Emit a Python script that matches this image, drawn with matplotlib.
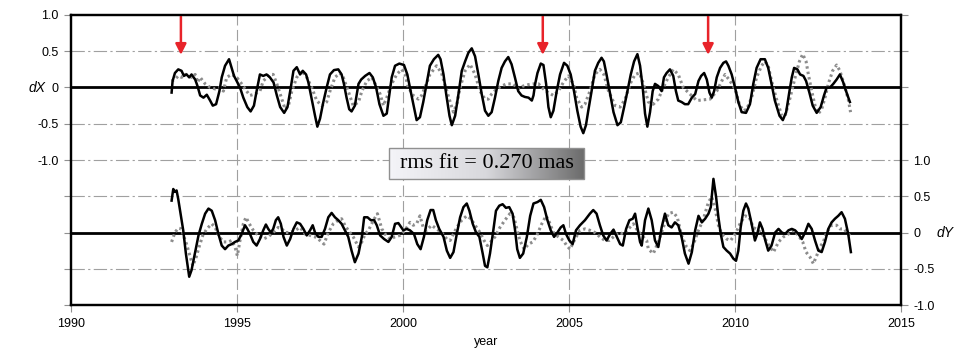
import numpy as np
import matplotlib
matplotlib.use("Agg")
import matplotlib.pyplot as plt
from matplotlib.colors import LinearSegmentedColormap
from matplotlib.patches import Rectangle

# dX, observed (black line)
dx_year = [
    1993.03, 1993.06, 1993.13, 1993.23, 1993.33, 1993.40, 1993.48, 1993.56, 1993.63, 1993.74,
    1993.81, 1993.89, 1993.99, 1994.09, 1994.19, 1994.27, 1994.37, 1994.47, 1994.54, 1994.64,
    1994.76, 1994.84, 1994.91, 1994.99, 1995.09, 1995.19, 1995.31, 1995.41, 1995.51, 1995.59,
    1995.69, 1995.79, 1995.89, 1995.99, 1996.10, 1996.20, 1996.30, 1996.42, 1996.52, 1996.62,
    1996.70, 1996.80, 1996.90, 1996.98, 1997.08, 1997.15, 1997.25, 1997.35, 1997.42, 1997.50,
    1997.60, 1997.70, 1997.80, 1997.92, 1998.05, 1998.15, 1998.22, 1998.30, 1998.38, 1998.45,
    1998.55, 1998.66, 1998.74, 1998.86, 1998.99, 1999.09, 1999.19, 1999.29, 1999.41, 1999.51,
    1999.59, 1999.66, 1999.76, 1999.89,
    2000.03, 2000.13, 2000.23, 2000.33, 2000.41, 2000.51, 2000.61, 2000.71, 2000.81, 2000.93,
    2001.06, 2001.13, 2001.22, 2001.30, 2001.40, 2001.47, 2001.57, 2001.67, 2001.77, 2001.87,
    2001.97, 2002.07, 2002.17, 2002.27, 2002.37, 2002.47, 2002.57, 2002.67, 2002.77, 2002.87,
    2002.97, 2003.07, 2003.17, 2003.27, 2003.37, 2003.47, 2003.57, 2003.67, 2003.78, 2003.88,
    2003.93, 2003.98, 2004.05, 2004.15, 2004.23, 2004.31, 2004.38, 2004.45, 2004.53, 2004.63,
    2004.73, 2004.85, 2004.95, 2005.05, 2005.15, 2005.25, 2005.35, 2005.43, 2005.51, 2005.58,
    2005.68, 2005.78, 2005.88, 2005.98, 2006.05, 2006.13, 2006.24, 2006.34, 2006.46, 2006.56,
    2006.66, 2006.76, 2006.86, 2006.96, 2007.06,
    2007.14, 2007.22, 2007.29, 2007.36, 2007.44, 2007.52, 2007.59, 2007.69, 2007.79, 2007.86,
    2007.94, 2008.04, 2008.14, 2008.22, 2008.29, 2008.39, 2008.49, 2008.59, 2008.70, 2008.80,
    2008.90, 2008.98, 2009.07, 2009.15, 2009.23, 2009.30, 2009.37, 2009.45, 2009.55, 2009.65,
    2009.73, 2009.80, 2009.90, 2010.00, 2010.10, 2010.20, 2010.33, 2010.45, 2010.55, 2010.65,
    2010.77, 2010.90, 2011.00, 2011.10, 2011.20, 2011.34, 2011.44, 2011.54, 2011.64, 2011.71,
    2011.78, 2011.88, 2011.96, 2012.06, 2012.14, 2012.24, 2012.34, 2012.46, 2012.58, 2012.68,
    2012.76, 2012.86, 2012.96, 2013.06, 2013.16, 2013.26, 2013.36, 2013.46,
]
dx_val = [
    -0.07, 0.09, 0.20, 0.25, 0.23, 0.16, 0.18, 0.14, 0.18, 0.11,
    0.02, -0.11, -0.14, -0.10, -0.18, -0.25, -0.23, -0.05, 0.14, 0.30,
    0.39, 0.27, 0.16, 0.09, 0.00, -0.14, -0.27, -0.33, -0.25, -0.05,
    0.18, 0.16, 0.18, 0.14, 0.07, -0.11, -0.27, -0.35, -0.27, 0.00,
    0.23, 0.28, 0.18, 0.23, 0.18, 0.07, -0.16, -0.39, -0.54, -0.43,
    -0.20, 0.00, 0.18, 0.24, 0.25, 0.18, 0.05, -0.14, -0.30, -0.33,
    -0.25, 0.05, 0.11, 0.16, 0.20, 0.14, 0.00, -0.23, -0.39, -0.36,
    -0.09, 0.14, 0.30, 0.33,
    0.31, 0.18, -0.05, -0.27, -0.45, -0.41, -0.20, 0.05, 0.30, 0.39,
    0.45, 0.39, 0.18, -0.09, -0.39, -0.52, -0.39, -0.09, 0.23, 0.36,
    0.48, 0.54, 0.43, 0.18, -0.09, -0.32, -0.39, -0.34, -0.14, 0.09,
    0.27, 0.36, 0.42, 0.32, 0.14, -0.05, -0.11, -0.13, -0.14, -0.18,
    -0.11, 0.05, 0.20, 0.33, 0.31, 0.05, -0.27, -0.41, -0.32, -0.05,
    0.18, 0.34, 0.30, 0.18, -0.05, -0.32, -0.54, -0.63, -0.52, -0.32,
    -0.05, 0.23, 0.34, 0.41, 0.36, 0.18, -0.09, -0.34, -0.52, -0.48,
    -0.27, -0.05, 0.18, 0.36, 0.46,
    0.30, 0.00, -0.36, -0.54, -0.34, -0.05, 0.05, 0.02, -0.05, 0.14,
    0.20, 0.25, 0.16, -0.05, -0.18, -0.20, -0.23, -0.23, -0.14, -0.09,
    0.09, 0.16, 0.20, 0.11, -0.07, -0.14, -0.05, 0.14, 0.27, 0.34,
    0.36, 0.30, 0.18, 0.00, -0.20, -0.34, -0.35, -0.23, 0.05, 0.27,
    0.39, 0.39, 0.27, 0.05, -0.18, -0.39, -0.45, -0.34, -0.05, 0.14,
    0.27, 0.25, 0.18, 0.16, 0.09, -0.07, -0.25, -0.35, -0.27, -0.11,
    0.00, 0.00, 0.05, 0.11, 0.18, 0.07, -0.07, -0.20,
]

# dX, model fit (grey dots)
dx_fit_year = [
    1993.03, 1993.13, 1993.23, 1993.33, 1993.43, 1993.53, 1993.63, 1993.74, 1993.81, 1993.89,
    1994.04, 1994.19, 1994.34, 1994.49, 1994.59, 1994.69, 1994.84, 1994.99, 1995.14, 1995.29,
    1995.39, 1995.54, 1995.69, 1995.79, 1995.99, 1996.09, 1996.20, 1996.35, 1996.45, 1996.55,
    1996.65, 1996.80, 1996.95, 1997.10, 1997.25, 1997.40, 1997.55, 1997.70, 1997.80, 1997.95,
    1998.10, 1998.20, 1998.35, 1998.50, 1998.66, 1998.76, 1998.91, 1999.06, 1999.16, 1999.31,
    1999.41, 1999.51, 1999.66, 1999.81, 1999.96, 2000.06,
    2000.16, 2000.31, 2000.46, 2000.56, 2000.66, 2000.81, 2001.01, 2001.16, 2001.32, 2001.42,
    2001.52, 2001.62, 2001.72, 2001.87, 2002.02, 2002.17, 2002.32, 2002.47, 2002.57, 2002.67,
    2002.82, 2002.97, 2003.12, 2003.32, 2003.47, 2003.62, 2003.78, 2003.93, 2004.08, 2004.23,
    2004.38, 2004.53, 2004.68, 2004.83, 2004.98, 2005.13, 2005.23, 2005.38, 2005.48, 2005.63,
    2005.78, 2005.93, 2006.05, 2006.19, 2006.39, 2006.54, 2006.69, 2006.84, 2006.99, 2007.12,
    2007.24, 2007.39, 2007.54, 2007.69, 2007.84, 2007.99, 2008.14, 2008.29, 2008.44, 2008.64,
    2008.85, 2009.05, 2009.25, 2009.45, 2009.60, 2009.70, 2009.85, 2010.00, 2010.13, 2010.25,
    2010.35, 2010.50, 2010.65, 2010.80, 2010.90, 2011.00, 2011.10, 2011.25, 2011.41, 2011.51,
    2011.66, 2011.81, 2011.94, 2012.04, 2012.14, 2012.21, 2012.31, 2012.41, 2012.51, 2012.61,
    2012.71, 2012.81, 2012.94, 2013.06, 2013.16, 2013.28, 2013.41, 2013.48,
]
dx_fit = [
    0.09, 0.11, 0.16, 0.14, 0.18, 0.18, 0.14, 0.18, 0.07, 0.14,
    0.05, 0.00, -0.02, 0.00, -0.05, 0.14, 0.18, 0.14, 0.05, -0.05,
    -0.11, -0.09, -0.05, 0.09, 0.18, 0.18, 0.05, -0.16, -0.30, -0.25,
    -0.05, 0.14, 0.23, 0.14, 0.00, -0.18, -0.25, -0.20, -0.05, 0.14,
    0.20, 0.14, -0.05, -0.25, -0.20, -0.05, 0.09, 0.14, 0.05, -0.09,
    -0.25, -0.14, 0.05, 0.18, 0.25, 0.18,
    0.00, -0.11, -0.16, -0.11, 0.00, 0.18, 0.30, 0.20, -0.05, -0.20,
    -0.34, -0.23, 0.00, 0.23, 0.32, 0.18, -0.05, -0.16, -0.16, -0.09,
    -0.02, 0.02, 0.05, 0.05, -0.02, 0.02, 0.04, 0.05, 0.05, -0.02,
    -0.07, -0.11, -0.05, 0.07, 0.16, 0.05, -0.14, -0.27, -0.23, -0.05,
    0.18, 0.25, 0.18, -0.05, -0.25, -0.27, -0.16, 0.05, 0.18, 0.20,
    0.05, -0.20, -0.23, -0.16, 0.00, 0.14, 0.25, 0.18, 0.00, -0.09,
    -0.18, -0.17, -0.16, -0.05, 0.09, 0.18, 0.09, -0.02, -0.23, -0.32,
    -0.30, -0.14, 0.14, 0.30, 0.36, 0.30, 0.09, -0.16, -0.39, -0.39,
    -0.14, 0.14, 0.36, 0.46, 0.36, 0.18, -0.05, -0.25, -0.36, -0.30,
    -0.14, 0.05, 0.23, 0.31, 0.23, 0.05, -0.16, -0.34,
]

# dY, observed (black line)
dy_year = [
    1993.03, 1993.08, 1993.13, 1993.18, 1993.23, 1993.30, 1993.38, 1993.46, 1993.56, 1993.63,
    1993.74, 1993.84, 1993.94, 1994.04, 1994.14, 1994.24, 1994.34, 1994.44, 1994.54, 1994.64,
    1994.74, 1994.84, 1994.94, 1995.04, 1995.14, 1995.24, 1995.31, 1995.39, 1995.49, 1995.59,
    1995.69, 1995.79, 1995.87, 1995.94, 1996.02, 1996.09, 1996.17, 1996.24, 1996.32, 1996.40,
    1996.50, 1996.60, 1996.70, 1996.80, 1996.90, 1997.00, 1997.10, 1997.20, 1997.28, 1997.35,
    1997.45, 1997.55, 1997.65, 1997.75, 1997.85, 1997.95, 1998.05, 1998.15, 1998.25, 1998.35,
    1998.45, 1998.55, 1998.66, 1998.76, 1998.83, 1998.93, 1999.03, 1999.13, 1999.21, 1999.31,
    1999.43, 1999.56, 1999.66, 1999.76, 1999.86,
    2000.01, 2000.11, 2000.21, 2000.33, 2000.43, 2000.53, 2000.63, 2000.73, 2000.83, 2000.91,
    2000.99, 2001.09, 2001.22, 2001.32, 2001.42, 2001.52, 2001.62, 2001.72, 2001.82, 2001.92,
    2002.00, 2002.10, 2002.20, 2002.30, 2002.40, 2002.47, 2002.54, 2002.62, 2002.72, 2002.80,
    2002.90, 2003.00, 2003.10, 2003.20, 2003.30, 2003.37, 2003.44, 2003.52, 2003.62, 2003.73,
    2003.83, 2003.93, 2004.05, 2004.15, 2004.25, 2004.35, 2004.45, 2004.55, 2004.65, 2004.75,
    2004.83, 2004.91, 2005.01, 2005.11, 2005.21, 2005.33, 2005.48, 2005.63, 2005.73, 2005.83,
    2005.93, 2006.03, 2006.13, 2006.24, 2006.34, 2006.44, 2006.54, 2006.62, 2006.72, 2006.82,
    2006.92, 2006.99, 2007.06, 2007.14,
    2007.19, 2007.29, 2007.39, 2007.49, 2007.59, 2007.69, 2007.79, 2007.89, 2007.99, 2008.09,
    2008.19, 2008.29, 2008.39, 2008.49, 2008.60, 2008.70, 2008.80, 2008.90, 2009.00, 2009.10,
    2009.20, 2009.27, 2009.35, 2009.43, 2009.50, 2009.57, 2009.65, 2009.75, 2009.85, 2009.95,
    2010.03, 2010.10, 2010.17, 2010.25, 2010.33, 2010.40, 2010.50, 2010.60, 2010.67, 2010.75,
    2010.83, 2010.90, 2011.00, 2011.10, 2011.21, 2011.31, 2011.41, 2011.51, 2011.61, 2011.71,
    2011.81, 2011.91, 2012.01, 2012.11, 2012.21, 2012.31, 2012.41, 2012.51, 2012.61, 2012.71,
    2012.81, 2012.91, 2013.01, 2013.11, 2013.21, 2013.31, 2013.41, 2013.49,
]
dy_val = [
    0.44, 0.60, 0.56, 0.58, 0.46, 0.26, 0.03, -0.29, -0.61, -0.52,
    -0.27, -0.04, 0.12, 0.26, 0.33, 0.30, 0.17, -0.02, -0.18, -0.23,
    -0.18, -0.16, -0.13, -0.11, -0.02, 0.10, 0.05, -0.02, -0.13, -0.18,
    -0.09, 0.03, 0.11, 0.05, 0.00, 0.05, 0.17, 0.21, 0.12, -0.06,
    -0.18, -0.09, 0.05, 0.14, 0.12, 0.05, -0.04, 0.03, 0.10, 0.00,
    -0.06, -0.06, 0.05, 0.21, 0.27, 0.21, 0.17, 0.12, 0.03, -0.06,
    -0.25, -0.41, -0.29, -0.06, 0.21, 0.21, 0.17, 0.17, 0.10, -0.04,
    -0.09, -0.13, -0.06, 0.12, 0.13,
    0.03, 0.05, 0.03, -0.02, -0.16, -0.23, -0.06, 0.17, 0.31, 0.31,
    0.17, 0.05, -0.06, -0.25, -0.35, -0.27, -0.02, 0.21, 0.35, 0.40,
    0.30, 0.12, 0.00, -0.06, -0.29, -0.46, -0.48, -0.29, 0.03, 0.30,
    0.37, 0.39, 0.34, 0.35, 0.26, 0.05, -0.23, -0.35, -0.29, -0.06,
    0.23, 0.40, 0.42, 0.45, 0.35, 0.17, 0.03, -0.06, 0.00, 0.07,
    0.10, -0.02, -0.11, -0.16, 0.03, 0.10, 0.17, 0.26, 0.31, 0.26,
    0.10, -0.04, -0.11, -0.02, 0.04, -0.06, -0.16, -0.18, 0.05, 0.17,
    0.19, 0.26, 0.07, -0.13,
    -0.18, 0.17, 0.33, 0.17, -0.11, -0.20, 0.07, 0.26, 0.10, 0.07,
    0.14, 0.10, -0.06, -0.29, -0.43, -0.27, 0.03, 0.23, 0.14, 0.19,
    0.26, 0.35, 0.74, 0.49, 0.21, -0.02, -0.20, -0.25, -0.29, -0.36,
    -0.39, -0.25, 0.07, 0.30, 0.40, 0.33, 0.12, -0.11, -0.02, 0.14,
    0.05, -0.09, -0.25, -0.18, 0.00, 0.05, 0.00, -0.02, 0.03, 0.05,
    0.03, -0.02, -0.09, 0.00, 0.12, 0.05, -0.11, -0.25, -0.27, -0.13,
    0.05, 0.14, 0.19, 0.23, 0.28, 0.19, -0.02, -0.27,
]

# dY, model fit (grey dots)
dy_fit_year = [
    1993.03, 1993.13, 1993.23, 1993.33, 1993.40, 1993.48, 1993.58, 1993.67, 1993.77, 1993.87,
    1993.97, 1994.09, 1994.24, 1994.34, 1994.47, 1994.59, 1994.74, 1994.84, 1994.94, 1995.01,
    1995.09, 1995.19, 1995.27, 1995.37, 1995.49, 1995.64, 1995.79, 1995.94, 1996.09, 1996.24,
    1996.35, 1996.45, 1996.60, 1996.75, 1996.90, 1997.05, 1997.20, 1997.35, 1997.50, 1997.62,
    1997.75, 1997.90, 1998.05, 1998.15, 1998.25, 1998.35, 1998.50, 1998.66, 1998.76, 1998.86,
    1998.96, 1999.11, 1999.23, 1999.36, 1999.49, 1999.61, 1999.76, 1999.91, 2000.06,
    2000.21, 2000.31, 2000.41, 2000.51, 2000.61, 2000.71, 2000.86, 2001.01, 2001.16, 2001.32,
    2001.42, 2001.52, 2001.62, 2001.77, 2001.92, 2002.04, 2002.17, 2002.32, 2002.44, 2002.54,
    2002.64, 2002.77, 2002.92, 2003.07, 2003.22, 2003.34, 2003.42, 2003.52, 2003.65, 2003.78,
    2003.91, 2004.03, 2004.18, 2004.31, 2004.41, 2004.53, 2004.68, 2004.83, 2004.93, 2005.03,
    2005.18, 2005.33, 2005.48, 2005.63, 2005.78, 2005.93, 2006.08, 2006.21, 2006.34, 2006.49,
    2006.64, 2006.79, 2006.94, 2007.06, 2007.19, 2007.34,
    2007.39, 2007.54, 2007.69, 2007.84, 2007.99, 2008.14, 2008.26, 2008.39, 2008.54, 2008.64,
    2008.75, 2008.90, 2009.05, 2009.20, 2009.30, 2009.40, 2009.50, 2009.60, 2009.75, 2009.87,
    2010.03, 2010.15, 2010.30, 2010.43, 2010.55, 2010.70, 2010.85, 2011.00, 2011.16, 2011.31,
    2011.46, 2011.61, 2011.76, 2011.91, 2012.04, 2012.14, 2012.26, 2012.36, 2012.46, 2012.56,
    2012.66, 2012.76, 2012.91, 2013.06, 2013.16, 2013.28, 2013.41, 2013.50,
]
dy_fit = [
    -0.13, 0.00, 0.06, 0.05, -0.06, -0.16, -0.32, -0.46, -0.34, -0.18,
    -0.04, 0.05, 0.12, 0.07, -0.06, -0.13, -0.13, -0.11, -0.20, -0.32,
    -0.11, 0.12, 0.21, 0.12, 0.03, -0.04, -0.09, -0.06, 0.00, 0.07,
    0.05, 0.00, 0.00, 0.03, 0.07, -0.02, -0.04, -0.06, -0.11, -0.16,
    0.00, 0.12, 0.17, 0.19, 0.10, 0.03, -0.06, -0.20, -0.13, -0.02,
    0.03, 0.17, 0.26, 0.05, -0.04, -0.09, -0.06, -0.04, 0.03,
    0.14, 0.10, 0.12, 0.23, 0.07, 0.03, 0.10, 0.05, 0.00, -0.09,
    -0.11, -0.02, 0.07, 0.17, 0.23, 0.19, 0.10, 0.00, -0.11, -0.18,
    -0.13, -0.06, 0.07, 0.17, 0.26, 0.21, 0.07, -0.11, -0.23, -0.16,
    -0.13, -0.04, 0.12, 0.23, 0.14, 0.00, -0.06, -0.11, -0.18, -0.23,
    -0.09, 0.03, 0.05, 0.03, 0.00, -0.06, -0.11, -0.11, -0.06, 0.00,
    -0.02, 0.05, 0.12, 0.03, -0.04, -0.11,
    -0.23, -0.29, -0.13, 0.07, 0.26, 0.28, 0.21, -0.04, -0.20, -0.25,
    -0.16, 0.03, 0.19, 0.42, 0.49, 0.33, 0.10, -0.02, -0.09, -0.11,
    0.00, 0.12, 0.23, 0.21, 0.07, 0.03, -0.04, -0.16, -0.27, -0.13,
    -0.06, -0.02, 0.03, -0.04, -0.13, -0.27, -0.34, -0.43, -0.32, -0.20,
    -0.13, 0.00, 0.10, 0.10, 0.05, 0.05, -0.02, -0.06,
]

arrow_years = [1993.31, 2004.21, 2009.19]
x_ticks = [1990, 1995, 2000, 2005, 2010, 2015]
y_ticks = [1.0, 0.5, 0.0, -0.5, -1.0, -1.5, -2.0, -2.5, -3.0]
left_labels = ["1.0", "0.5", "0", "-0.5", "-1.0", "", "", "", ""]
right_labels = ["", "", "", "", "1.0", "0.5", "0", "-0.5", "-1.0"]
rms_text = "rms fit = 0.270 mas"

DY_OFFSET = -2.0  # dY panel is drawn two units below dX on a shared axis
GRID = "#a0a0a0"

plt.rcParams["font.family"] = ["Liberation Sans", "DejaVu Sans"]

fig = plt.figure(figsize=(9.57, 3.52), dpi=100)
ax = fig.add_axes([0.0742, 0.1335, 0.8673, 0.8239])

# grid
for y in [0.5, -0.5, -1.0, -1.5, -2.5]:
    ax.axhline(y, color=GRID, lw=0.8, ls=(0, (12, 3, 2, 3)), zorder=1)
for x in [1995, 2000, 2005, 2010]:
    ax.axvline(x, color=GRID, lw=0.8, ls=(0, (10, 4)), zorder=1)
ax.axhline(0, color="black", lw=2, zorder=2)
ax.axhline(DY_OFFSET, color="black", lw=2, zorder=2)

dot_style = dict(color="#8c8c8c", lw=2.2, ls=(0, (0.8, 1.0)), zorder=3)
ax.plot(dx_fit_year, dx_fit, **dot_style)
ax.plot(dy_fit_year, np.array(dy_fit) + DY_OFFSET, **dot_style)
ax.plot(dx_year, dx_val, color="black", lw=1.8, zorder=4)
ax.plot(dy_year, np.array(dy_val) + DY_OFFSET, color="black", lw=1.8, zorder=4)

for yr in arrow_years:
    ax.annotate("", xy=(yr, 0.45), xytext=(yr, 0.98),
                arrowprops=dict(arrowstyle="-|>", color="#e8232a", lw=1.8,
                                mutation_scale=16, shrinkA=0, shrinkB=0),
                zorder=6)

# rms box with a grey gradient
bx0, bx1, by0, by1 = 1999.58, 2005.45, -1.26, -0.84
cmap = LinearSegmentedColormap.from_list("box", ["#f4f4f8", "#d8d8dc", "#6c6c6c"])
ax.imshow(np.linspace(0, 1, 256)[None, :], extent=[bx0, bx1, by0, by1],
          aspect="auto", cmap=cmap, zorder=5)
ax.add_patch(Rectangle((bx0, by0), bx1 - bx0, by1 - by0, fill=False,
                       edgecolor="#909090", lw=1, zorder=5))
ax.text((bx0 + bx1) / 2, (by0 + by1) / 2, rms_text, ha="center", va="center",
        family=["Liberation Serif", "DejaVu Serif"], fontsize=16, zorder=6)

ax.set_xlim(1990, 2015)
ax.set_ylim(-3, 1)
ax.set_xticks(x_ticks)
ax.set_xticklabels([str(t) for t in x_ticks])
ax.set_yticks(y_ticks)
ax.set_yticklabels(left_labels)
ax.tick_params(axis="both", direction="out", length=5, width=0.8, color="#909090",
               labelsize=9, pad=4)
for s in ax.spines.values():
    s.set_linewidth(1.6)

ax2 = ax.twinx()
ax2.set_ylim(-3, 1)
ax2.set_yticks(y_ticks)
ax2.set_yticklabels(right_labels)
ax2.tick_params(axis="y", direction="out", length=5, width=0.8, color="#909090",
                labelsize=9, pad=4)
for s in ax2.spines.values():
    s.set_linewidth(1.6)

ax.set_xlabel("year", fontsize=9, labelpad=5)
fig.text(37 / 957, 1 - 88 / 352, "dX", style="italic", fontsize=10,
         ha="center", va="center")
fig.text(945 / 957, 1 - 233 / 352, "dY", style="italic", fontsize=10,
         ha="center", va="center")

fig.savefig("out.png", dpi=100)
